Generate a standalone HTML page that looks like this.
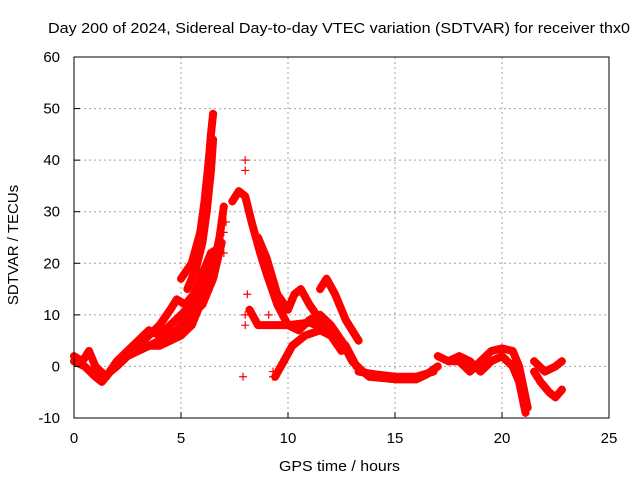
<!DOCTYPE html>
<html><head><meta charset="utf-8"><style>
body{margin:0;background:#fff;font-family:"Liberation Sans",sans-serif}
svg text{font-family:"Liberation Sans",sans-serif;font-size:15px;fill:#000}
</style></head><body>
<svg id="c" width="640" height="480" xmlns="http://www.w3.org/2000/svg">
<rect width="640" height="480" fill="#fff"/>
<g id="grid"></g>
<g id="series"></g>
<rect x="74" y="57" width="535" height="361" fill="none" stroke="#000"/>
<g id="axes"></g>
<text x="48" y="33" textLength="582" lengthAdjust="spacingAndGlyphs">Day 200 of 2024, Sidereal Day-to-day VTEC variation (SDTVAR) for receiver thx0</text>
<text x="279" y="471" textLength="121" lengthAdjust="spacingAndGlyphs">GPS time / hours</text>
<text transform="translate(18,245) rotate(-90)" text-anchor="middle">SDTVAR / TECUs</text>
</svg>
<script>
const xTicks=[0,5,10,15,20,25];
const yTicks=[-10,0,10,20,30,40,50,60];
const trackA=[[0,1],[0.5,0],[1,-2],[1.3,-3],[1.7,-1],[2,0],[2.5,2],[3,4],[3.5,6],[4,8],[4.5,11],[4.8,13],[5.2,12],[5.6,14],[6,18],[6.4,22],[6.8,23]];
const trackA2=[[0,2],[0.4,1],[0.7,3],[1,0],[1.5,-2],[2,1],[2.5,3],[3,5],[3.5,7],[4,6],[4.5,8],[5,10],[5.5,12],[6,16],[6.5,21]];
const trackPeak=[[5,17],[5.5,20],[5.9,26],[6.1,32],[6.3,40],[6.4,45],[6.5,49]];
const trackPeak2=[[5.3,15],[5.7,19],[6,24],[6.2,30],[6.4,38],[6.5,44]];
const trackB=[[2.5,2],[3.5,4],[4,4],[5,6],[5.5,8],[6,13],[6.5,19],[6.8,25],[7,31]];
const trackB2=[[3,3],[4,5],[4.8,7],[5.5,10],[6,12],[6.5,17],[6.9,24]];
const trackC=[[7.4,32],[7.7,34],[8,33],[8.3,28],[8.7,22],[9,18],[9.5,12],[10,8],[11,8.5],[12,7],[12.7,4],[13.2,0],[13.8,-2],[15,-2.5],[16,-2.5],[16.5,-1.5],[17,0]];
const trackC2=[[13.3,-1],[14,-1.5],[15,-2],[16,-2],[16.8,-1]];
const trackD=[[8.6,25],[9,21],[9.5,14],[10,11],[10.3,14],[10.6,15],[11,12],[11.5,9],[12,7],[12.5,4]];
const trackE=[[11.5,15],[11.8,17],[12.2,14],[12.7,9],[13,7],[13.3,5]];
const trackF=[[8.2,11],[8.6,8],[9.5,8],[10,8],[10.5,7],[11,9],[11.5,10],[12,8],[12.5,5],[13,1],[13.5,-1]];
const trackG=[[9.4,-2],[9.8,1],[10.2,4],[10.8,6],[11.5,7],[12,6],[12.5,3]];
const trackH=[[17,2],[17.5,1],[18,1],[18.5,-1],[19,1],[19.5,3],[20,3.5],[20.5,3],[20.8,0],[21,-4],[21.2,-8]];
const trackI=[[17.5,1],[18,2],[18.5,1],[19,-1],[19.5,1],[20,2],[20.5,0],[20.8,-3],[21.1,-9]];
const trackJ=[[21.5,-1],[21.8,-3],[22.2,-5],[22.5,-6],[22.8,-4.5]];
const trackK=[[21.5,1],[22,-1],[22.5,0],[22.8,1]];
const spikes=[[8,40],[8,38],[7.9,-2],[8,10],[8.1,14],[8,8],[9.3,-2],[9.1,10],[7,22],[7,26],[7.1,28],[9.3,-1]];
const tracks=[trackA,trackA2,trackPeak,trackPeak2,trackB,trackB2,trackC,trackC2,trackD,trackE,trackF,trackG,trackH,trackI,trackJ,trackK];
const X=v=>74+v*(535/25);
const Y=v=>418-(v+10)*(361/70);
const NS="http://www.w3.org/2000/svg";
function mk(t,a,p){const e=document.createElementNS(NS,t);for(const k in a)e.setAttribute(k,a[k]);p.appendChild(e);return e;}
const grid=document.getElementById('grid'),axes=document.getElementById('axes'),ser=document.getElementById('series');
xTicks.forEach(t=>{
 if(t>0&&t<25){const g=mk('line',{x1:X(t),x2:X(t),y1:57,y2:418,stroke:'#a0a0a0','stroke-dasharray':'2,3'},grid);
 
 }
 const l=mk('text',{x:X(t),y:443,'text-anchor':'middle'},axes);l.textContent=t;
 
 
 mk('line',{x1:X(t),x2:X(t),y1:418,y2:412,stroke:'#000'},axes);
});
yTicks.forEach(t=>{
 if(t>-10&&t<60){const g=mk('line',{x1:74,x2:609,y1:Y(t),y2:Y(t),stroke:'#a0a0a0','stroke-dasharray':'2,3'},grid);
 
 }
 const l=mk('text',{x:60,y:Y(t)+5,'text-anchor':'end'},axes);l.textContent=t;
 
 
 mk('line',{x1:74,x2:80,y1:Y(t),y2:Y(t),stroke:'#000'},axes);
});
function plus(x,y){const p=mk('path',{d:`M${X(x)-4},${Y(y)}h8M${X(x)},${Y(y)-4}v8`,stroke:'#f00','stroke-width':1.2},ser);
 
 }
tracks.forEach(tr=>{
 const pl=mk('polyline',{points:tr.map(p=>X(p[0])+','+Y(p[1])).join(' '),fill:'none',stroke:'#f00','stroke-width':8,'stroke-linejoin':'round','stroke-linecap':'round'},ser);
 
 
 tr.forEach(p=>plus(p[0],p[1]));
});
spikes.forEach(p=>plus(p[0],p[1]));
</script>
</body></html>
